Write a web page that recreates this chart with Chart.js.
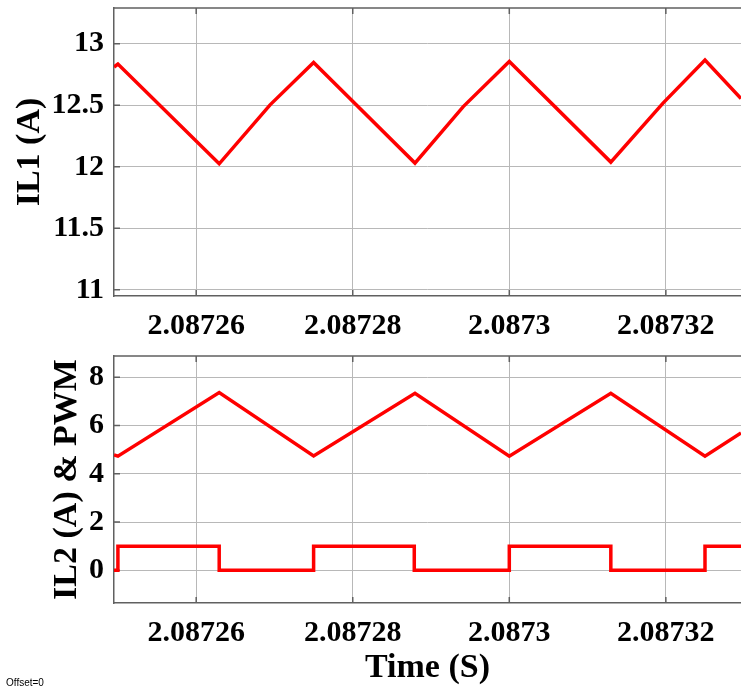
<!DOCTYPE html>
<html>
<head>
<meta charset="utf-8">
<script src="https://cdn.jsdelivr.net/npm/chart.js@4"></script>
<style>
  html, body { margin: 0; padding: 0; background: #fff; }
  body { width: 741px; height: 689px; position: relative; overflow: hidden; }
  .panel { position: absolute; left: 0; width: 741px; }
  #offset { position: absolute; left: 6px; top: 677px; font: 10px 'Liberation Sans', Arial, sans-serif; color: #000; }
</style>
</head>
<body>
<div class="panel" style="top:0;height:346px"><canvas id="il1Chart" width="741" height="346"></canvas></div>
<div class="panel" style="top:346px;height:343px"><canvas id="il2Chart" width="741" height="343"></canvas></div>
<div id="offset">Offset=0</div>
<script>
// time window (s)
const xMin = 2.0872495;
const xMax = 2.0873296;
const timeTicks = [2.08726, 2.08728, 2.0873, 2.08732];

// IL1 (A) - the rising ramps bend slightly half way up
const il1Time = [2.0872495, 2.08725, 2.08726294, 2.08726944, 2.087275, 2.08728795, 2.08729412, 2.0873,
  2.08731297, 2.08731964, 2.087325, 2.0873296];
const il1Values = [12.81, 12.835, 12.024, 12.503, 12.848, 12.03, 12.489, 12.856,
  12.038, 12.517, 12.867, 12.555];
const il1Ticks = [11, 11.5, 12, 12.5, 13];

// IL2 (A)
const il2Time = [2.0872495, 2.08725, 2.08726294, 2.087275, 2.08728795, 2.0873, 2.08731297, 2.087325, 2.0873296];
const il2Values = [4.78, 4.73, 7.366, 4.738, 7.337, 4.725, 7.337, 4.725, 5.69];

// switch gate signal
const pwmTime = [2.0872495, 2.08725, 2.08726294, 2.087275, 2.08728786, 2.0873, 2.08731297, 2.087325, 2.0873296];
const pwmValues = [0, 1, 0, 1, 0, 1, 0, 1, 1];
const il2Ticks = [0, 2, 4, 6, 8];

const serif = "'Liberation Serif', 'Times New Roman', serif";
const gridColor = '#b8b8b8';
const axisColor = '#606060';

function points(xs, ys) {
  return xs.map((x, i) => ({ x: x, y: ys[i] }));
}

// top border plus the short inward tick marks
const frame = {
  id: 'frame',
  beforeDatasetsDraw(chart) {
    const { ctx, chartArea: a, scales: { x, y } } = chart;
    ctx.save();
    ctx.strokeStyle = axisColor;
    ctx.lineWidth = 1.5;
    ctx.beginPath();
    ctx.moveTo(a.left, a.top);
    ctx.lineTo(a.right, a.top);
    x.ticks.forEach(t => {
      const px = x.getPixelForValue(t.value);
      ctx.moveTo(px, a.top); ctx.lineTo(px, a.top + 6);
      ctx.moveTo(px, a.bottom); ctx.lineTo(px, a.bottom - 6);
    });
    y.ticks.forEach(t => {
      const py = y.getPixelForValue(t.value);
      ctx.moveTo(a.left, py); ctx.lineTo(a.left + 6, py);
    });
    ctx.stroke();
    ctx.restore();
  }
};

function xScale(height, title) {
  return {
    type: 'linear',
    min: xMin,
    max: xMax,
    afterBuildTicks: s => { s.ticks = timeTicks.map(v => ({ value: v })); },
    afterFit: s => { s.height = height; s.paddingLeft = 0; s.paddingRight = 0; },
    grid: { color: gridColor, lineWidth: 1, drawTicks: false },
    border: { color: axisColor, width: 1.5 },
    ticks: {
      autoSkip: false,
      maxRotation: 0,
      padding: 12,
      color: '#000',
      font: { family: serif, size: 30, weight: 'bold' },
      callback: v => String(+v.toFixed(5))
    },
    title: title ? {
      display: true,
      text: title,
      color: '#000',
      padding: { top: 0, bottom: 0 },
      font: { family: serif, size: 34, weight: 'bold', lineHeight: 1.2 }
    } : { display: false }
  };
}

function yScale(min, max, ticks, title, titlePad) {
  return {
    min: min,
    max: max,
    afterBuildTicks: s => { s.ticks = ticks.map(v => ({ value: v })); },
    afterFit: s => { s.width = 114; s.paddingTop = 0; s.paddingBottom = 0; },
    grid: { color: gridColor, lineWidth: 1, drawTicks: false },
    border: { color: axisColor, width: 1.5 },
    ticks: {
      padding: 10,
      color: '#000',
      font: { family: serif, size: 30, weight: 'bold' },
      callback: v => String(v)
    },
    title: {
      display: true,
      text: title,
      color: '#000',
      padding: { top: titlePad, bottom: 0 },
      font: { family: serif, size: 34, weight: 'bold', lineHeight: 1 }
    }
  };
}

const common = {
  responsive: false,
  animation: false,
  events: [],
  plugins: { legend: { display: false }, tooltip: { enabled: false } }
};

// IL1 panel
new Chart(document.getElementById('il1Chart'), {
  type: 'line',
  data: {
    datasets: [{
      data: points(il1Time, il1Values),
      borderColor: '#ff0000',
      borderWidth: 3.5,
      pointRadius: 0,
      tension: 0
    }]
  },
  options: Object.assign({}, common, {
    layout: { padding: { top: 8, left: 0, right: 0, bottom: 0 } },
    scales: {
      x: xScale(50, null),
      y: yScale(10.95, 13.29, il1Ticks, 'IL1 (A)', 13)
    }
  }),
  plugins: [frame]
});

// IL2 and PWM panel
new Chart(document.getElementById('il2Chart'), {
  type: 'line',
  data: {
    datasets: [{
      data: points(il2Time, il2Values),
      borderColor: '#ff0000',
      borderWidth: 3.5,
      pointRadius: 0,
      tension: 0
    }, {
      data: points(pwmTime, pwmValues),
      borderColor: '#ff0000',
      borderWidth: 3.5,
      pointRadius: 0,
      stepped: 'before'
    }]
  },
  options: Object.assign({}, common, {
    layout: { padding: { top: 10, left: 0, right: 0, bottom: 0 } },
    scales: {
      x: xScale(86, 'Time (S)'),
      y: yScale(-1.355, 8.88, il2Ticks, 'IL2 (A) & PWM', 50)
    }
  }),
  plugins: [frame]
});
</script>
</body>
</html>
